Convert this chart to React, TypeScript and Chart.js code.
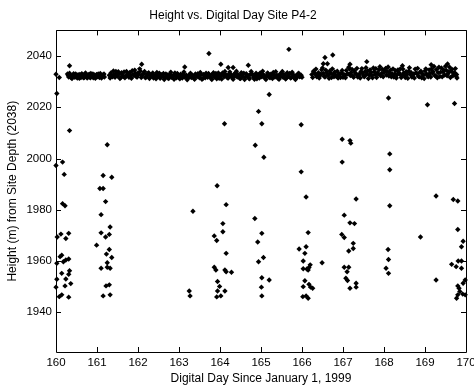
import React, { useEffect, useRef } from "react";
import { Chart, registerables } from "chart.js";

Chart.register(...registerables);

const chartTitle = "Height vs. Digital Day Site P4-2";
const xTitle = "Digital Day Since January 1, 1999";
const yTitle = "Height (m) from Site Depth (2038)";

const xTicks = [160, 161, 162, 163, 164, 165, 166, 167, 168, 169, 170];
const yTicks = [1940, 1960, 1980, 2000, 2020, 2040];
const xMin = 160;
const xMax = 170;
const yMin = 1924.5;
const yMax = 2050;

// Dense surface band (day, height)
const bandSegA: [number, number][] = [
  [160.28, 2033.0], [160.31, 2031.8], [160.34, 2032.6], [160.37, 2031.5], [160.40, 2032.2],
  [160.43, 2033.1], [160.46, 2031.7], [160.49, 2032.4], [160.52, 2031.4], [160.55, 2032.0],
  [160.58, 2032.8], [160.61, 2031.6], [160.64, 2032.3], [160.67, 2031.5], [160.70, 2032.9],
  [160.73, 2032.1], [160.76, 2031.4], [160.79, 2032.5], [160.82, 2031.8], [160.85, 2033.2],
  [160.88, 2032.0], [160.91, 2031.5], [160.94, 2032.6], [160.97, 2031.7], [161.00, 2032.3],
  [161.03, 2033.0], [161.06, 2031.6], [161.09, 2032.4], [161.12, 2031.9], [161.15, 2032.7],
  [161.18, 2031.8],
];

const bandFillA: [number, number][] = [
  [160.30, 2032.4], [160.33, 2033.3], [160.36, 2032.0], [160.39, 2031.2], [160.42, 2032.6],
  [160.45, 2032.1], [160.48, 2033.0], [160.51, 2031.9], [160.54, 2032.7], [160.57, 2031.3],
  [160.60, 2032.5], [160.63, 2033.1], [160.66, 2032.0], [160.69, 2031.6], [160.72, 2033.4],
  [160.75, 2032.3], [160.78, 2031.8], [160.81, 2032.9], [160.84, 2031.5], [160.87, 2032.6],
  [160.90, 2033.0], [160.93, 2032.2], [160.96, 2031.3], [160.99, 2032.8], [161.02, 2031.9],
  [161.05, 2032.5], [161.08, 2033.2], [161.11, 2031.4], [161.14, 2032.2], [161.17, 2033.0],
];

const bandSegB1: [number, number][] = [
  [161.30, 2032.5], [161.34, 2033.4], [161.38, 2031.9], [161.42, 2032.8], [161.46, 2034.0],
  [161.50, 2032.2], [161.54, 2033.1], [161.58, 2031.6], [161.62, 2032.7], [161.66, 2033.8],
  [161.70, 2032.0], [161.74, 2033.0], [161.78, 2031.7], [161.82, 2032.6], [161.86, 2034.3],
  [161.90, 2032.4], [161.94, 2033.3], [161.98, 2031.8], [162.02, 2032.9], [162.06, 2034.1],
  [162.10, 2032.3], [162.14, 2033.2], [162.18, 2031.5], [162.22, 2032.6], [162.26, 2033.5],
  [162.30, 2031.9], [162.34, 2032.8], [162.38, 2031.4], [162.42, 2032.5], [162.46, 2033.6],
  [162.50, 2032.0], [162.54, 2031.3], [162.58, 2032.7], [162.62, 2033.2], [162.66, 2031.6],
  [162.70, 2032.4], [162.74, 2031.2], [162.78, 2032.9], [162.82, 2031.7], [162.86, 2032.3],
  [162.90, 2033.4], [162.94, 2031.5], [162.98, 2032.6], [163.02, 2031.1], [163.06, 2032.2],
  [163.10, 2033.0], [163.14, 2031.8], [163.18, 2032.5], [163.22, 2031.3], [163.26, 2032.8],
  [163.30, 2031.6], [163.34, 2032.2], [163.38, 2030.9], [163.42, 2032.4], [163.46, 2033.1],
  [163.50, 2031.5], [163.54, 2032.7], [163.58, 2031.2], [163.62, 2032.3], [163.66, 2033.3],
  [163.70, 2031.7],
];

const bandSegB2: [number, number][] = [
  [163.74, 2032.6], [163.78, 2031.4], [163.82, 2032.9], [163.86, 2031.8], [163.90, 2033.2],
  [163.94, 2032.1], [163.98, 2031.3], [164.02, 2032.5], [164.06, 2033.4], [164.10, 2031.9],
  [164.14, 2032.7], [164.18, 2031.5], [164.22, 2033.0], [164.26, 2032.2], [164.30, 2031.6],
  [164.34, 2032.8], [164.38, 2033.5], [164.42, 2031.8], [164.46, 2032.4], [164.50, 2031.2],
  [164.54, 2032.9], [164.58, 2033.3], [164.62, 2031.7], [164.66, 2032.5], [164.70, 2031.4],
  [164.74, 2032.8], [164.78, 2033.1], [164.82, 2031.6], [164.86, 2032.3], [164.90, 2031.1],
  [164.94, 2032.6], [164.98, 2033.4], [165.02, 2031.9], [165.06, 2032.7], [165.10, 2031.3],
  [165.14, 2032.2], [165.18, 2033.0], [165.22, 2031.5], [165.26, 2032.5], [165.30, 2033.6],
  [165.34, 2031.8], [165.38, 2032.4], [165.42, 2031.2], [165.46, 2032.9], [165.50, 2033.3],
  [165.54, 2031.7], [165.58, 2032.6], [165.62, 2031.4], [165.66, 2032.1], [165.70, 2033.2],
  [165.74, 2031.6], [165.78, 2032.8], [165.82, 2031.3], [165.86, 2032.4], [165.90, 2033.0],
  [165.94, 2031.9], [165.98, 2032.5], [166.00, 2031.7],
];

const bandFillB: [number, number][] = [
  [161.32, 2031.4], [161.36, 2032.3], [161.40, 2034.2], [161.44, 2031.7], [161.48, 2032.9],
  [161.52, 2033.9], [161.56, 2031.2], [161.60, 2033.5], [161.64, 2032.0], [161.68, 2031.5],
  [161.72, 2034.0], [161.76, 2032.4], [161.80, 2033.6], [161.84, 2031.3], [161.88, 2032.8],
  [161.92, 2034.5], [161.96, 2031.9], [162.00, 2033.4], [162.04, 2035.0], [162.08, 2031.6],
  [162.12, 2032.9], [162.16, 2034.0], [162.20, 2031.8], [162.24, 2033.1], [162.28, 2031.2],
  [162.32, 2032.5], [162.36, 2033.4], [162.40, 2032.0], [162.44, 2031.1], [162.48, 2032.3],
  [162.52, 2033.3], [162.56, 2031.8], [162.60, 2032.1], [162.64, 2030.8], [162.68, 2033.0],
  [162.72, 2032.6], [162.76, 2031.4], [162.80, 2033.7], [162.84, 2032.2], [162.88, 2030.9],
  [162.92, 2032.4], [162.96, 2033.2], [163.00, 2031.6], [163.04, 2032.9], [163.08, 2031.4],
  [163.12, 2033.8], [163.16, 2032.2], [163.20, 2030.7], [163.24, 2031.9], [163.28, 2033.3],
  [163.32, 2032.5], [163.36, 2031.4], [163.40, 2033.0], [163.44, 2031.9], [163.48, 2032.3],
  [163.52, 2033.6], [163.56, 2030.9], [163.60, 2032.8], [163.64, 2031.5], [163.68, 2032.1],
  [163.72, 2033.2], [163.76, 2032.0], [163.80, 2030.8], [163.84, 2033.5], [163.88, 2032.3],
  [163.92, 2031.1], [163.96, 2033.4], [164.00, 2032.2], [164.04, 2031.0], [164.08, 2032.9],
  [164.12, 2034.0], [164.16, 2032.3], [164.20, 2031.4], [164.24, 2033.8], [164.28, 2032.6],
  [164.32, 2030.9], [164.36, 2032.1], [164.40, 2034.1], [164.44, 2032.7], [164.48, 2031.3],
  [164.52, 2033.5], [164.56, 2032.0], [164.60, 2030.8], [164.64, 2033.1], [164.68, 2032.4],
  [164.72, 2031.1], [164.76, 2034.0], [164.80, 2032.5], [164.84, 2030.9], [164.88, 2033.3],
  [164.92, 2032.0], [164.96, 2031.4], [165.00, 2032.8], [165.04, 2034.1], [165.08, 2032.2],
  [165.12, 2030.8], [165.16, 2033.4], [165.20, 2031.8], [165.24, 2032.9], [165.28, 2031.2],
  [165.32, 2032.6], [165.36, 2033.9], [165.40, 2032.3], [165.44, 2030.9], [165.48, 2031.9],
  [165.52, 2034.0], [165.56, 2032.7], [165.60, 2031.0], [165.64, 2033.5], [165.68, 2032.0],
  [165.72, 2031.4], [165.76, 2033.7], [165.80, 2032.3], [165.84, 2030.8], [165.88, 2031.7],
  [165.92, 2033.3], [165.96, 2032.1],
];

const bandSegC1: [number, number][] = [
  [166.24, 2032.8], [166.28, 2034.1], [166.32, 2033.0], [166.36, 2031.9], [166.40, 2033.5],
  [166.44, 2032.4], [166.48, 2034.6], [166.52, 2033.2], [166.56, 2031.8], [166.60, 2033.7],
  [166.64, 2032.5], [166.68, 2034.2], [166.72, 2031.6], [166.76, 2032.9], [166.80, 2033.8],
  [166.84, 2032.0], [166.88, 2031.4], [166.92, 2032.7], [166.96, 2033.4], [167.00, 2031.7],
  [167.04, 2032.5], [167.08, 2034.4], [167.12, 2033.1], [167.16, 2035.0], [167.20, 2033.6],
  [167.24, 2032.2], [167.28, 2034.3], [167.32, 2033.0], [167.36, 2031.8], [167.40, 2032.9],
  [167.44, 2034.0], [167.48, 2033.3], [167.52, 2031.9], [167.56, 2035.4], [167.60, 2034.1],
  [167.64, 2032.6], [167.68, 2033.5], [167.72, 2031.5], [167.76, 2033.9], [167.80, 2035.1],
  [167.84, 2033.4], [167.88, 2034.6], [167.92, 2032.3], [167.96, 2034.8], [168.00, 2033.6],
];

const bandSegC2: [number, number][] = [
  [168.04, 2035.2], [168.08, 2034.0], [168.12, 2032.2], [168.16, 2034.5], [168.20, 2033.1],
  [168.24, 2031.8], [168.28, 2034.3], [168.32, 2032.7], [168.36, 2033.6], [168.40, 2035.0],
  [168.44, 2032.4], [168.48, 2033.4], [168.52, 2031.6], [168.56, 2032.8], [168.60, 2034.1],
  [168.64, 2032.9], [168.68, 2031.8], [168.72, 2033.0], [168.76, 2034.9], [168.80, 2033.2],
  [168.84, 2032.1], [168.88, 2033.7], [168.92, 2031.5], [168.96, 2032.6], [169.00, 2034.2],
  [169.04, 2033.0], [169.08, 2031.9], [169.12, 2033.3], [169.16, 2035.0], [169.20, 2033.9],
  [169.24, 2032.4], [169.28, 2034.7], [169.32, 2033.5], [169.36, 2032.0], [169.40, 2035.3],
  [169.44, 2033.8], [169.48, 2032.6], [169.52, 2034.4], [169.56, 2033.1], [169.60, 2035.6],
  [169.64, 2034.0], [169.68, 2032.3], [169.72, 2033.6], [169.76, 2032.1], [169.78, 2031.4],
];

const bandFillC: [number, number][] = [
  [166.26, 2031.6], [166.30, 2033.4], [166.34, 2034.9], [166.38, 2032.5], [166.42, 2031.4],
  [166.46, 2033.0], [166.50, 2035.3], [166.54, 2032.1], [166.58, 2034.5], [166.62, 2032.9],
  [166.66, 2031.3], [166.70, 2033.3], [166.74, 2035.0], [166.78, 2031.9], [166.82, 2032.6],
  [166.86, 2034.1], [166.90, 2033.0], [166.94, 2031.6], [166.98, 2034.4], [167.02, 2032.8],
  [167.06, 2031.5], [167.10, 2033.0], [167.14, 2035.6], [167.18, 2032.4], [167.22, 2034.8],
  [167.26, 2031.7], [167.30, 2033.4], [167.34, 2035.2], [167.38, 2032.6], [167.42, 2031.4],
  [167.46, 2035.1], [167.50, 2032.3], [167.54, 2034.0], [167.58, 2032.9], [167.62, 2031.2],
  [167.66, 2034.6], [167.70, 2032.4], [167.74, 2035.3], [167.78, 2032.8], [167.82, 2031.6],
  [167.86, 2033.0], [167.90, 2035.8], [167.94, 2033.2], [167.98, 2031.9], [168.02, 2034.3],
  [168.06, 2032.6], [168.10, 2035.7], [168.14, 2033.3], [168.18, 2031.9], [168.22, 2035.0],
  [168.26, 2032.9], [168.30, 2031.4], [168.34, 2034.6], [168.38, 2033.0], [168.42, 2031.6],
  [168.46, 2034.9], [168.50, 2032.5], [168.54, 2033.9], [168.58, 2031.3], [168.62, 2035.4],
  [168.66, 2033.6], [168.70, 2032.2], [168.74, 2031.4], [168.78, 2033.5], [168.82, 2035.2],
  [168.86, 2031.9], [168.90, 2034.1], [168.94, 2033.0], [168.98, 2031.2], [169.02, 2035.0],
  [169.06, 2032.3], [169.10, 2034.6], [169.14, 2031.8], [169.18, 2033.4], [169.22, 2035.9],
  [169.26, 2032.2], [169.30, 2031.5], [169.34, 2035.6], [169.38, 2033.7], [169.42, 2031.9],
  [169.46, 2034.5], [169.50, 2036.0], [169.54, 2032.3], [169.58, 2033.9], [169.62, 2031.6],
  [169.66, 2034.8], [169.70, 2033.0], [169.74, 2035.1], [169.77, 2032.8],
];

// Spikes above the band
const bandSpikes: [number, number][] = [
  [160.00, 2032.9], [160.08, 2031.6], [160.33, 2036.2], [162.09, 2036.8], [163.14, 2035.7],
  [163.73, 2041.0], [164.02, 2036.8], [164.20, 2035.5], [164.32, 2035.5], [164.69, 2036.4],
  [165.68, 2042.6], [166.52, 2037.0], [166.56, 2039.4], [166.62, 2037.0], [166.75, 2040.4],
  [167.17, 2036.8], [167.58, 2037.8], [168.45, 2036.2], [169.15, 2036.6], [169.55, 2036.9],
];

// Scattered returns below the band
const scatterHigh: [number, number][] = [
  [160.02, 2025.4], [160.33, 2010.9], [161.25, 2005.4], [165.20, 2025.0], [164.94, 2018.4],
  [164.11, 2013.6], [165.02, 2013.6], [165.98, 2013.2], [164.86, 2005.2], [165.07, 2000.5],
  [168.11, 2023.6], [169.06, 2021.0], [169.72, 2021.5], [166.98, 2007.5], [167.17, 2007.0],
  [167.19, 2006.0], [168.14, 2001.8],
];

const scatterMid: [number, number][] = [
  [160.00, 1997.3], [160.16, 1998.6], [160.20, 1993.8], [161.15, 1993.4], [161.36, 1992.7],
  [161.07, 1988.3], [161.15, 1988.3], [165.98, 1994.8], [163.93, 1989.4], [166.98, 1998.6],
  [168.14, 1995.6], [160.16, 1982.4], [160.22, 1981.6], [161.21, 1983.2], [164.15, 1982.0],
  [166.10, 1985.0], [167.32, 1984.2], [168.14, 1981.6], [169.27, 1985.4], [169.69, 1984.0],
  [169.80, 1983.4],
];

const scatterLow1: [number, number][] = [
  [160.03, 1969.4], [160.12, 1970.5], [160.24, 1968.8], [160.31, 1970.8], [160.10, 1961.7],
  [160.14, 1962.3], [160.31, 1960.8], [160.24, 1960.4], [160.18, 1959.7], [160.02, 1959.1],
  [160.33, 1956.2], [160.14, 1955.2], [160.31, 1954.8], [160.02, 1952.9], [160.24, 1953.0],
  [160.22, 1950.3], [160.36, 1951.2], [160.00, 1949.8], [160.08, 1946.1], [160.14, 1946.8],
  [160.31, 1945.9],
  [161.21, 1969.4], [161.10, 1971.0], [161.30, 1970.4], [161.32, 1973.3], [160.99, 1966.2],
  [161.10, 1978.1], [161.23, 1962.7], [161.30, 1964.5], [161.36, 1961.4], [161.25, 1959.3],
  [161.10, 1957.2], [161.25, 1957.6], [161.32, 1957.2], [161.22, 1950.3], [161.30, 1950.7],
  [161.15, 1946.4], [161.32, 1946.8],
];

const scatterLow2: [number, number][] = [
  [163.34, 1979.4], [163.25, 1948.3], [163.27, 1946.4],
  [164.07, 1974.6], [164.07, 1971.4], [163.86, 1969.8], [163.92, 1968.0], [164.15, 1963.0],
  [163.86, 1957.6], [163.90, 1956.5], [164.12, 1956.5], [164.15, 1955.8], [164.28, 1955.6],
  [163.94, 1952.0], [163.99, 1950.1], [163.94, 1948.3], [164.12, 1948.3], [163.92, 1946.0],
  [164.02, 1946.4],
  [164.85, 1976.6], [165.02, 1970.8], [164.92, 1967.4], [165.06, 1961.4], [164.94, 1959.7],
  [165.02, 1953.5], [165.20, 1952.6], [165.01, 1949.8], [165.02, 1946.4],
];

const scatterLow3: [number, number][] = [
  [166.15, 1971.1], [166.10, 1965.6], [165.93, 1964.7], [166.07, 1963.0], [166.49, 1959.3],
  [166.03, 1960.0], [166.12, 1956.9], [166.15, 1956.5], [166.17, 1957.5], [166.20, 1958.5],
  [166.03, 1957.0], [166.07, 1952.3], [166.03, 1950.0], [166.17, 1950.9], [166.21, 1949.8],
  [166.26, 1949.4], [166.02, 1946.1], [166.10, 1946.4], [166.15, 1945.5],
  [167.03, 1977.9], [167.17, 1974.9], [167.28, 1974.6], [166.97, 1970.4], [167.03, 1969.2],
  [167.25, 1966.9], [167.25, 1964.9], [167.14, 1963.9], [167.03, 1957.6], [167.14, 1957.6],
  [167.10, 1955.8], [167.07, 1953.3], [167.11, 1952.4], [167.32, 1951.3], [167.32, 1949.8],
  [167.17, 1949.4],
];

const scatterLow4: [number, number][] = [
  [168.89, 1969.4], [168.10, 1964.5], [168.11, 1960.6], [168.05, 1957.2], [168.11, 1955.2],
  [169.27, 1952.6],
  [169.80, 1972.3], [169.93, 1967.7], [169.89, 1965.6], [169.65, 1958.7], [169.76, 1957.8],
  [169.81, 1960.0], [169.89, 1960.0], [169.89, 1957.2], [169.98, 1952.6], [169.93, 1951.3],
  [169.80, 1950.3], [169.83, 1949.4], [169.85, 1948.1], [169.92, 1947.1], [169.98, 1946.8],
  [169.77, 1945.5], [169.80, 1946.8],
];

const FONT = "'Liberation Sans', Arial, Helvetica, sans-serif";

const toPts = (arr: [number, number][]) => arr.map(([x, y]) => ({ x, y }));

const boxPlugin = {
  id: "matlabBox",
  afterDatasetsDraw(chart: any) {
    const { ctx, chartArea, scales } = chart;
    const { left, right, top, bottom } = chartArea;
    const tl = 5;
    ctx.save();
    ctx.strokeStyle = "#000";
    ctx.lineWidth = 1;
    ctx.beginPath();
    ctx.rect(Math.round(left) + 0.5, Math.round(top) + 0.5, Math.round(right - left), Math.round(bottom - top));
    for (const t of scales.x.ticks) {
      const px = Math.round(scales.x.getPixelForValue(t.value)) + 0.5;
      ctx.moveTo(px, bottom);
      ctx.lineTo(px, bottom - tl);
      ctx.moveTo(px, top);
      ctx.lineTo(px, top + tl);
    }
    for (const t of scales.y.ticks) {
      const py = Math.round(scales.y.getPixelForValue(t.value)) + 0.5;
      ctx.moveTo(left, py);
      ctx.lineTo(left + tl, py);
      ctx.moveTo(right, py);
      ctx.lineTo(right - tl, py);
    }
    ctx.stroke();
    ctx.restore();
  },
};

export default function App() {
  const ref = useRef<HTMLCanvasElement | null>(null);
  useEffect(() => {
    if (!ref.current) return;
    const pointStyle = {
      pointStyle: "rectRot" as const,
      pointRadius: 2.7,
      pointBackgroundColor: "#000",
      pointBorderColor: "#000",
      pointBorderWidth: 0,
      clip: false as const,
    };
    const chart = new Chart(ref.current, {
      type: "scatter",
      data: {
        datasets: [
          {
            label: "band",
            data: toPts([
              ...bandSegA, ...bandFillA, ...bandSegB1, ...bandSegB2, ...bandFillB,
              ...bandSegC1, ...bandSegC2, ...bandFillC, ...bandSpikes,
            ]),
            ...pointStyle,
          },
          {
            label: "returns",
            data: toPts([...scatterHigh, ...scatterMid, ...scatterLow1, ...scatterLow2, ...scatterLow3, ...scatterLow4]),
            ...pointStyle,
          },
        ],
      },
      options: {
        responsive: false,
        animation: false,
        layout: { padding: { left: 0, right: 8, top: 0, bottom: 0 } },
        plugins: {
          legend: { display: false },
          tooltip: { enabled: false },
          title: {
            display: true,
            text: chartTitle,
            color: "#000",
            font: { family: FONT, size: 12, weight: "normal" },
            padding: { top: 8, bottom: 8 },
          },
        },
        scales: {
          x: {
            type: "linear",
            min: xMin,
            max: xMax,
            afterBuildTicks: (s: any) => { s.ticks = xTicks.map((v) => ({ value: v })); },
            afterFit: (s: any) => { s.height = 36; s.paddingLeft = 0; s.paddingRight = 0; },
            grid: { display: false, drawTicks: false },
            border: { display: false },
            ticks: {
              padding: 4, color: "#000", font: { family: FONT, size: 11.5 }, maxRotation: 0, autoSkip: false,
              callback: (v: any) => String(v),
            },
            title: { display: true, text: xTitle, color: "#000", font: { family: FONT, size: 12 }, padding: { top: 0, bottom: 2 } },
          },
          y: {
            type: "linear",
            min: yMin,
            max: yMax,
            afterBuildTicks: (s: any) => { s.ticks = yTicks.map((v) => ({ value: v })); },
            afterFit: (s: any) => { s.width = 56; s.paddingTop = 0; s.paddingBottom = 0; },
            grid: { display: false, drawTicks: false },
            border: { display: false },
            ticks: {
              padding: 4, color: "#000", font: { family: FONT, size: 11.5 }, autoSkip: false,
              callback: (v: any) => String(v),
            },
            title: { display: true, text: yTitle, color: "#000", font: { family: FONT, size: 12 }, padding: { top: 5, bottom: 0 } },
          },
        },
      },
      plugins: [boxPlugin],
    });
    return () => chart.destroy();
  }, []);
  return (
    <div style={{ position: "absolute", left: 0, top: 0, width: 474, height: 388, background: "#fff" }}>
      <canvas ref={ref} width={474} height={388} />
    </div>
  );
}
